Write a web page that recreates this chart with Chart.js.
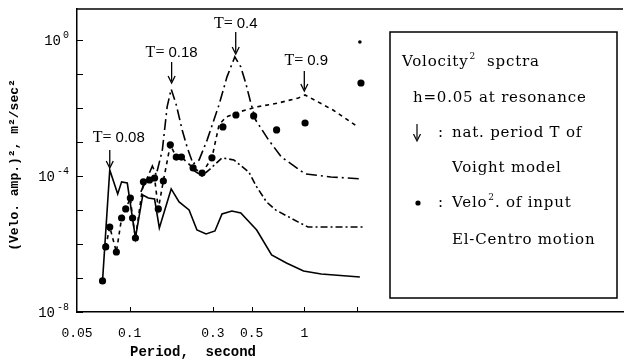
<!DOCTYPE html>
<html>
<head>
<meta charset="utf-8">
<script src="https://cdn.jsdelivr.net/npm/chart.js@4.4.0/dist/chart.umd.min.js"></script>
<style>
  html, body { margin: 0; padding: 0; background: #fff; }
</style>
</head>
<body>
<canvas id="spectra" width="627" height="362"></canvas>
<script>
// Velocity^2 spectra: period (s) vs (velo. amp.)^2 (m^2/s^2)

// solid line (T = 0.08 model)
const solidPeriod = [0.070, 0.077, 0.0855, 0.090, 0.097, 0.108, 0.119, 0.128, 0.139, 0.148, 0.173, 0.192, 0.219, 0.243, 0.274, 0.308, 0.338, 0.385, 0.433, 0.534, 0.650, 0.790, 0.99, 1.25, 2.08];
const solidValue = [8.2e-8, 1.5e-4, 2.96e-5, 6.7e-5, 6.2e-5, 1.5e-6, 2.76e-5, 2.25e-5, 2.1e-5, 2.96e-6, 4.15e-5, 1.72e-5, 1.0e-5, 2.58e-6, 1.97e-6, 2.41e-6, 7.6e-6, 9.35e-6, 8.2e-6, 2.58e-6, 4.75e-7, 2.76e-7, 1.61e-7, 1.31e-7, 1.07e-7];

// long dash-dot line (peaks at T = 0.18 and T = 0.4)
const upperPeriod = [0.116, 0.127, 0.135, 0.142, 0.154, 0.164, 0.173, 0.185, 0.200, 0.214, 0.231, 0.250, 0.278, 0.325, 0.361, 0.400, 0.433, 0.462, 0.494, 0.527, 0.624, 0.740, 1.01, 1.42, 2.08];
const upperValue = [3.4e-5, 9.35e-5, 1.97e-4, 1.07e-4, 5.8e-4, 0.0107, 0.036, 0.0123, 2.25e-3, 6.7e-4, 2.25e-4, 2.96e-4, 1.15e-3, 0.0123, 0.082, 0.316, 0.161, 0.054, 0.014, 4.4e-3, 1.15e-3, 3.6e-4, 1.15e-4, 9.35e-5, 8.2e-5];

// short dash-dot line
const lowerPeriod = [0.231, 0.260, 0.285, 0.338, 0.395, 0.481, 0.534, 0.608, 0.685, 0.925, 1.05, 2.16];
const lowerValue = [1.5e-4, 1.0e-4, 1.5e-4, 3.4e-4, 2.96e-4, 1.31e-4, 4.75e-5, 1.72e-5, 1.0e-5, 4.4e-6, 3.16e-6, 3.16e-6];

// dashed line (T = 0.9 model)
const dashPeriod = [0.073, 0.077, 0.084, 0.090, 0.095, 0.101, 0.104, 0.108, 0.120, 0.130, 0.139, 0.146, 0.156, 0.171, 0.185, 0.198, 0.231, 0.260, 0.296, 0.325, 0.356, 0.422, 0.534, 0.712, 0.925, 1.01, 1.46, 2.03];
const dashValue = [8.2e-7, 3.16e-6, 5.8e-7, 5.8e-6, 1.07e-5, 2.25e-5, 5.8e-6, 1.5e-6, 6.7e-5, 7.6e-5, 8.7e-5, 1.07e-5, 7.1e-5, 8.2e-4, 3.6e-4, 3.6e-4, 1.72e-4, 1.22e-4, 3.4e-4, 3.16e-3, 5.4e-3, 7.6e-3, 0.0107, 0.014, 0.0197, 0.024, 8.7e-3, 2.76e-3];

// dots: Velo^2 of input El-Centro motion
const inputPeriod = [0.070, 0.073, 0.077, 0.084, 0.090, 0.095, 0.101, 0.104, 0.108, 0.120, 0.130, 0.139, 0.146, 0.156, 0.171, 0.185, 0.198, 0.231, 0.260, 0.296, 0.342, 0.406, 0.513, 0.694, 1.01, 2.11, 2.08];
const inputValue = [8.2e-8, 8.2e-7, 3.16e-6, 5.8e-7, 5.8e-6, 1.07e-5, 2.25e-5, 5.8e-6, 1.5e-6, 6.7e-5, 7.6e-5, 8.7e-5, 1.07e-5, 7.1e-5, 8.2e-4, 3.6e-4, 3.6e-4, 1.72e-4, 1.22e-4, 3.4e-4, 2.76e-3, 6.2e-3, 5.8e-3, 2.25e-3, 3.6e-3, 0.054, 0.87];

// natural periods marked by arrows
const arrowPeriods = [0.077, 0.174, 0.405, 1.0];
const arrowLabels = ['0.08', '0.18', '0.4', '0.9'];

// axis ticks
const xTickValues = [0.05, 0.1, 0.3, 0.5, 1, 2];
const xTickLabels = ['0.05', '0.1', '0.3', '0.5', '1', ''];
const yTickValues = [1, 1e-1, 1e-2, 1e-3, 1e-4, 1e-5, 1e-6, 1e-7, 1e-8];
const yLabelValues = [1, 1e-4, 1e-8];
const yLabelExps = ['0', '-4', '-8'];

const legendLines = [
    { x: 402, y: 62, text: 'Volocity', sup: '2', rest: '  spctra' },
    { x: 413, y: 98, text: 'h=0.05 at resonance' },
    { x: 452, y: 133, text: 'nat. period T of', mark: 'arrow' },
    { x: 452, y: 168, text: 'Voight model' },
    { x: 452, y: 203, text: 'Velo', sup: '2', rest: '. of input', mark: 'dot' },
    { x: 452, y: 240, text: 'El-Centro motion' }
];

// pixel placement of the arrow annotations (label centre and arrow span)
const arrowLayout = [
    { dx: 9, ty: 138, a0: 150, a1: 168 },
    { dx: 0, ty: 53, a0: 62, a1: 83 },
    { dx: 0, ty: 24, a0: 32, a1: 54 },
    { dx: 2, ty: 61, a0: 71, a1: 91 }
];

function toPoints(xs, ys) {
    return xs.map((x, i) => ({ x: x, y: ys[i] }));
}

function drawArrow(ctx, x, y0, y1) {
    ctx.beginPath();
    ctx.moveTo(x, y0);
    ctx.lineTo(x, y1 - 2);
    ctx.stroke();
    ctx.beginPath();
    ctx.moveTo(x - 3.5, y1 - 7);
    ctx.lineTo(x, y1);
    ctx.lineTo(x + 3.5, y1 - 7);
    ctx.stroke();
}

const decorations = {
    id: 'decorations',
    afterDraw(chart) {
        const ctx = chart.ctx;
        const xs = chart.scales.x;
        const ys = chart.scales.y;
        const area = chart.chartArea;
        ctx.save();
        ctx.strokeStyle = '#000';
        ctx.fillStyle = '#000';
        ctx.lineWidth = 1.5;

        // top frame line
        ctx.beginPath();
        ctx.moveTo(area.left, area.top);
        ctx.lineTo(area.right, area.top);
        ctx.stroke();

        // inward tick marks
        ctx.lineWidth = 1;
        xTickValues.slice(1).forEach(v => {
            const px = Math.round(xs.getPixelForValue(v)) + 0.5;
            ctx.beginPath();
            ctx.moveTo(px, area.bottom);
            ctx.lineTo(px, area.bottom - 5);
            ctx.stroke();
        });
        yTickValues.forEach(v => {
            const py = Math.round(ys.getPixelForValue(v)) + 0.5;
            ctx.beginPath();
            ctx.moveTo(area.left, py);
            ctx.lineTo(area.left + 6, py);
            ctx.stroke();
        });

        // y tick labels 10^n
        ctx.textBaseline = 'middle';
        ctx.textAlign = 'right';
        yLabelValues.forEach((v, i) => {
            const py = ys.getPixelForValue(v);
            ctx.font = '10px "Liberation Mono"';
            ctx.fillText(yLabelExps[i], 69, py - 5);
            const w = ctx.measureText(yLabelExps[i]).width;
            ctx.font = '14px "Liberation Mono"';
            ctx.fillText('10', 69 - w - 2, py + 1);
        });

        // axis titles
        ctx.textAlign = 'center';
        ctx.font = 'bold 14px "Liberation Mono"';
        ctx.fillText('Period,  second', 193, 352);
        ctx.save();
        ctx.translate(15, 165);
        ctx.rotate(-Math.PI / 2);
        ctx.font = 'bold 13px "Liberation Mono"';
        ctx.fillText('(Velo. amp.)\u00b2, m\u00b2/sec\u00b2', 0, 0);
        ctx.restore();

        // arrows with natural period labels
        ctx.lineWidth = 1.3;
        arrowPeriods.forEach((p, i) => {
            const px = xs.getPixelForValue(p);
            const lay = arrowLayout[i];
            drawArrow(ctx, px, lay.a0, lay.a1);
            ctx.font = '16px "Liberation Serif"';
            const head = 'T= ';
            const hw = ctx.measureText(head).width;
            ctx.font = '15px "Liberation Sans"';
            const nw = ctx.measureText(arrowLabels[i]).width;
            const left = px + lay.dx - (hw + nw) / 2;
            ctx.textAlign = 'left';
            ctx.font = '16px "Liberation Serif"';
            ctx.fillText(head, left, lay.ty);
            ctx.font = '15px "Liberation Sans"';
            ctx.fillText(arrowLabels[i], left + hw, lay.ty);
        });

        // legend box
        ctx.lineWidth = 1.5;
        ctx.strokeRect(390, 32, 227, 266);
        ctx.textAlign = 'left';
        legendLines.forEach(l => {
            ctx.letterSpacing = '0.8px';
            ctx.font = '15px "DejaVu Serif"';
            ctx.fillText(l.text, l.x, l.y);
            if (l.sup) {
                let x = l.x + ctx.measureText(l.text).width + 1;
                ctx.font = '9px "DejaVu Serif"';
                ctx.fillText(l.sup, x, l.y - 5);
                x += ctx.measureText(l.sup).width;
                ctx.font = '15px "DejaVu Serif"';
                ctx.fillText(l.rest, x, l.y);
            }
            ctx.letterSpacing = '0px';
            if (l.mark) {
                ctx.fillText(':', 438, l.y);
                if (l.mark === 'arrow') {
                    ctx.lineWidth = 1.2;
                    drawArrow(ctx, 417, l.y - 9, l.y + 8);
                } else {
                    ctx.beginPath();
                    ctx.arc(418, l.y, 2.6, 0, Math.PI * 2);
                    ctx.fill();
                }
            }
        });
        ctx.restore();
    }
};

const lineBase = {
    borderColor: '#000',
    borderWidth: 1.6,
    pointRadius: 0,
    fill: false,
    tension: 0
};

const dotSizes = inputPeriod.map((p, i) => (i === inputPeriod.length - 1 ? 1.8 : 3.6));

new Chart(document.getElementById('spectra'), {
    type: 'scatter',
    data: {
        datasets: [
            Object.assign({ label: 'T=0.08', data: toPoints(solidPeriod, solidValue), showLine: true }, lineBase),
            Object.assign({ label: 'T=0.18/0.4', data: toPoints(upperPeriod, upperValue), showLine: true, borderDash: [11, 4, 2, 4] }, lineBase),
            Object.assign({ label: 'dash-dot', data: toPoints(lowerPeriod, lowerValue), showLine: true, borderDash: [7, 3, 2, 3] }, lineBase),
            Object.assign({ label: 'T=0.9', data: toPoints(dashPeriod, dashValue), showLine: true, borderDash: [4, 4] }, lineBase),
            {
                label: 'input',
                data: toPoints(inputPeriod, inputValue),
                showLine: false,
                pointRadius: dotSizes,
                backgroundColor: '#000',
                borderWidth: 0
            }
        ]
    },
    options: {
        responsive: false,
        animation: false,
        layout: { padding: { top: 9, right: 0, left: 0, bottom: 0 } },
        plugins: { legend: { display: false }, tooltip: { enabled: false } },
        scales: {
            x: {
                type: 'logarithmic',
                min: 0.05,
                max: 66.7,
                afterBuildTicks: scale => { scale.ticks = xTickValues.map(v => ({ value: v })); },
                afterFit: scale => { scale.height = 50; },
                grid: { display: false, drawTicks: false },
                border: { display: true, color: '#000', width: 1.5 },
                ticks: {
                    autoSkip: false,
                    maxRotation: 0,
                    padding: 14,
                    color: '#000',
                    font: { family: 'Liberation Mono', size: 13 },
                    callback: (v, i) => xTickLabels[i]
                }
            },
            y: {
                type: 'logarithmic',
                min: 1e-8,
                max: 8.1,
                afterFit: scale => { scale.width = 77; },
                grid: { display: false, drawTicks: false },
                border: { display: true, color: '#000', width: 1.5 },
                ticks: { display: false }
            }
        }
    },
    plugins: [decorations]
});
</script>
</body>
</html>
